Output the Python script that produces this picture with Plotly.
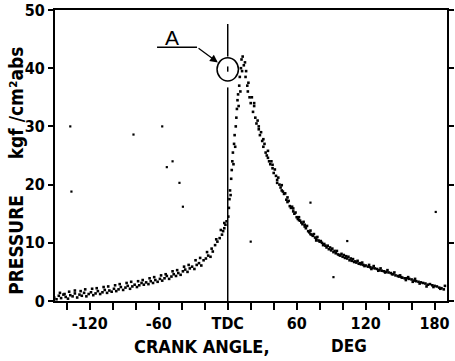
import plotly.graph_objects as go

# ---- pressure trace, compression stroke (deg, kgf/cm2 abs) ----
compression_angle = [-151, -149, -147, -145, -143, -141, -139, -137, -135, -133,
                     -131, -129, -127, -125, -123, -121, -119, -117, -115, -113,
                     -111, -109, -107, -105, -103, -101, -99, -97, -95, -93,
                     -91, -89, -87, -85, -83, -81, -79, -77, -75, -73,
                     -71, -69, -67, -65, -63, -61, -59, -57, -55, -53,
                     -51, -49, -47, -45, -43, -41, -39, -37, -35, -33,
                     -31, -29, -27, -25, -23, -21, -19, -17, -15, -13,
                     -11, -9, -7, -5, -4, -3, -2, -1]
compression_pressure = [0.6, 0.3, 0.9, 0.5, 1.1, 0.7, 0.4, 1.0, 0.8, 1.3,
                        0.6, 1.1, 0.9, 1.4, 0.8, 1.2, 1.5, 1.0, 1.3, 1.7,
                        1.2, 1.5, 1.9, 1.4, 1.8, 1.6, 2.1, 1.7, 2.0, 2.4,
                        1.9, 2.3, 2.6, 2.1, 2.5, 2.8, 2.4, 2.7, 3.1, 2.8,
                        3.2, 2.9, 3.4, 3.1, 3.6, 3.3, 3.8, 3.5, 3.9, 4.3,
                        3.8, 4.2, 4.6, 4.3, 4.8, 4.5, 5.1, 5.4, 5.0, 5.6,
                        5.9, 5.5, 6.2, 6.5, 6.1, 7.0, 7.3, 7.8, 7.6, 8.5,
                        9.6, 10.2, 10.8, 11.4, 12.0, 12.5, 13.1, 13.7]

compression_spread_angle = [-146, -142, -138, -133, -128, -124, -118, -114, -108, -104,
                            -98, -94, -88, -84, -78, -74, -68, -64, -58, -54,
                            -48, -44, -38, -34, -28, -24, -18, -14, -10, -6, -3]
compression_spread_pressure = [1.4, 1.2, 1.6, 1.8, 1.7, 2.0, 2.1, 2.2, 2.4, 2.5,
                               2.7, 2.9, 3.1, 3.3, 3.4, 3.6, 3.9, 4.1, 4.4, 4.6,
                               5.1, 5.3, 5.9, 6.2, 7.0, 7.4, 8.4, 9.0, 10.6, 12.2, 13.4]

# ---- combustion peak just after TDC ----
peak_angle = [0.5, 1, 1.5, 2, 2.5, 3, 3.5, 4, 4.5, 5,
              5.5, 6, 6.5, 7, 7.5, 8, 8.5, 9, 9.5, 10,
              10.5, 11, 11.5, 12, 12.5, 13, 14, 15, 15.5, 16,
              17, 17.5, 18, 19, 20]
peak_pressure = [14.5, 16.0, 17.5, 19.0, 18.2, 21.0, 22.5, 24.0, 25.5, 23.5,
                 27.0, 28.5, 26.5, 30.0, 31.5, 33.0, 34.5, 35.5, 33.5, 37.0,
                 38.5, 36.0, 40.0, 41.5, 39.5, 42.0, 40.5, 41.0, 38.5, 39.5,
                 37.0, 36.0, 37.5, 35.0, 34.0]

# ---- expansion stroke ----
expansion_angle = [21, 22, 23, 24, 25, 26, 27, 28, 29, 30,
                   31, 32, 33, 34, 35, 36, 37, 38, 39, 40,
                   41, 42, 43, 44, 45, 46, 47, 48, 49, 50,
                   51, 52, 53, 54, 55, 56, 57, 58, 59, 60,
                   61, 62, 63, 64, 65, 66, 67, 68, 69, 70,
                   71, 72, 73, 74, 75, 76, 77, 78, 79, 80,
                   82, 83, 84, 86, 87, 88, 90, 91, 92, 94,
                   95, 96, 98, 99, 100, 101, 102, 104, 105, 106,
                   108, 109, 110, 112, 113, 114, 116, 117, 118, 120,
                   122, 123, 124, 126, 127, 128, 130, 132, 133, 134,
                   136, 138, 139, 140, 142, 144, 145, 146, 148, 150,
                   151, 152, 154, 156, 157, 158, 160, 162, 163, 164,
                   166, 168, 170, 172, 174, 176, 178, 180, 182, 184,
                   186, 188, 189]
expansion_pressure = [35.0, 32.5, 33.5, 31.5, 30.5, 31.0, 29.5, 28.5, 29.0, 27.5,
                      26.5, 27.0, 25.5, 25.0, 25.8, 24.0, 23.5, 24.0, 22.8, 22.0,
                      22.6, 21.5, 20.8, 21.2, 20.0, 19.5, 19.9, 18.8, 18.4, 18.5,
                      17.4, 17.0, 17.2, 16.3, 16.0, 16.2, 15.4, 15.0, 15.2, 14.4,
                      14.1, 14.4, 13.8, 13.5, 13.2, 13.6, 12.8, 12.5, 12.9, 12.0,
                      11.8, 12.1, 11.4, 11.2, 11.5, 10.9, 10.7, 11.0, 10.4, 10.2,
                      10.0, 9.6, 9.8, 9.2, 9.5, 8.9, 8.7, 9.0, 8.4, 8.2,
                      8.6, 8.0, 7.8, 8.1, 7.6, 7.9, 7.4, 7.3, 7.6, 7.0,
                      6.9, 7.2, 6.7, 6.6, 6.9, 6.4, 6.3, 6.6, 6.2, 6.1,
                      5.9, 6.2, 5.8, 5.7, 6.0, 5.6, 5.5, 5.3, 5.6, 5.2,
                      5.1, 5.0, 5.3, 4.9, 4.8, 4.6, 4.9, 4.4, 4.3, 4.4,
                      4.1, 4.0, 3.9, 3.9, 4.1, 3.8, 3.7, 3.5, 3.8, 3.4,
                      3.3, 3.2, 3.1, 3.0, 2.8, 2.9, 2.7, 2.6, 2.5, 2.3,
                      2.2, 2.0, 2.6]

expansion_spread_angle = [23, 27, 31, 35, 39, 43, 47, 52, 57, 62,
                          67, 72, 77, 81, 85, 89, 93, 97, 103, 107,
                          111, 115, 119, 125, 131, 137, 143, 149, 155, 161,
                          167, 173, 179, 185]
expansion_spread_pressure = [34.0, 30.0, 27.8, 24.6, 23.4, 20.3, 19.0, 17.8, 15.9, 13.9,
                             13.1, 11.5, 10.4, 10.3, 9.5, 9.2, 8.6, 7.9, 7.7, 7.3,
                             6.8, 6.5, 6.0, 5.5, 5.2, 4.9, 4.6, 4.2, 3.6, 3.3,
                             3.0, 2.5, 2.4, 2.1]

# ---- isolated samples ----
stray_angle = [-137, -136, -82, -57, -53, -48, -42, -39, 20, 72, 92, 104, 181]
stray_pressure = [30, 18.8, 28.6, 30, 23, 24, 20.3, 16.2, 10.2, 16.9, 4.1, 10.3, 15.3]

x_tick_values = [-120, -60, 0, 60, 120, 180]
x_tick_labels = ["-120", "-60", "TDC", "60", "120", "180"]
y_tick_values = [0, 10, 20, 30, 40, 50]

FONT = "DejaVu Sans Condensed"

fig = go.Figure()
series = [
    (compression_angle, compression_pressure, 2.6),
    (compression_spread_angle, compression_spread_pressure, 2.6),
    (peak_angle, peak_pressure, 2.6),
    (expansion_angle, expansion_pressure, 2.6),
    (expansion_spread_angle, expansion_spread_pressure, 2.6),
    (stray_angle, stray_pressure, 2.2),
]
for xs, ys, sz in series:
    fig.add_trace(go.Scatter(
        x=xs, y=ys, mode="markers",
        marker=dict(symbol="square", size=sz, color="black", line=dict(width=0)),
        showlegend=False, hoverinfo="skip",
    ))

# TDC reference line, interrupted by the circle marking point A
line_style = dict(color="black", width=1.5)
fig.add_shape(type="line", x0=0, x1=0, y0=0, y1=36.7, line=line_style)
fig.add_shape(type="line", x0=0, x1=0, y0=42.0, y1=47.6, line=line_style)
fig.add_shape(type="circle", x0=-9.3, x1=9.3, y0=37.8, y1=41.8, line=line_style)
fig.add_shape(type="line", x0=0, x1=0, y0=39.4, y1=40.3, line=line_style)
# leader for label A
fig.add_shape(type="line", x0=-61.5, x1=-26.7, y0=43.6, y1=43.6,
              line=dict(color="black", width=1.5))
fig.add_annotation(x=-8.6, y=41.0, ax=-26.7, ay=43.6, axref="x", ayref="y",
                   xref="x", yref="y", text="", showarrow=True,
                   arrowhead=2, arrowsize=1.2, arrowwidth=1.3, arrowcolor="black")
fig.add_annotation(x=-48.5, y=45.2, xref="x", yref="y", text="A", showarrow=False,
                   font=dict(family="Liberation Sans", size=21, color="black"))

# axis titles
title_font = dict(family=FONT, size=19, color="black", weight="bold")
fig.add_annotation(x=-0.0995, y=0.193, xref="paper", yref="paper", text="PRESSURE",
                   textangle=-90, showarrow=False, xanchor="center", yanchor="middle",
                   font=title_font)
fig.add_annotation(x=-0.0995, y=0.683, xref="paper", yref="paper", text="kgf /cm²abs",
                   textangle=-90, showarrow=False, xanchor="center", yanchor="middle",
                   font=title_font)
fig.add_annotation(x=(202 - 55) / 392, y=-0.155, xref="paper", yref="paper",
                   text="CRANK ANGLE,", showarrow=False, xanchor="center", yanchor="middle",
                   font=dict(family=FONT, size=18, color="black", weight="bold"))
fig.add_annotation(x=(349 - 55) / 392, y=-0.155, xref="paper", yref="paper",
                   text="DEG", showarrow=False, xanchor="center", yanchor="middle",
                   font=dict(family=FONT, size=17, color="black", weight="bold"))

tick_font = dict(family=FONT, size=16, color="black", weight="bold")

fig.update_layout(
    width=455, height=361,
    margin=dict(l=55, r=8, t=10, b=60, autoexpand=False),
    paper_bgcolor="white", plot_bgcolor="white",
    font=dict(family=FONT, color="black"),
    xaxis=dict(
        range=[-150.3, 190.8], tickvals=x_tick_values, ticktext=x_tick_labels,
        ticks="outside", ticklen=7, tickwidth=1.5, tickcolor="black",
        showline=True, linewidth=2, linecolor="black", mirror=True,
        showgrid=False, zeroline=False, automargin=False,
        ticklabeloverflow="allow",
        tickfont=tick_font,
        minor=dict(tickmode="linear", tick0=0, dtick=20, ticks="outside",
                   ticklen=7, tickwidth=1.5, tickcolor="black", showgrid=False),
    ),
    yaxis=dict(
        range=[0, 50], tickvals=y_tick_values,
        ticks="outside", ticklen=5, tickwidth=1.5, tickcolor="black",
        showline=True, linewidth=2, linecolor="black", mirror="ticks",
        showgrid=False, zeroline=False, automargin=False,
        ticklabeloverflow="allow",
        tickfont=tick_font,
    ),
)

fig.write_html("out.html")
